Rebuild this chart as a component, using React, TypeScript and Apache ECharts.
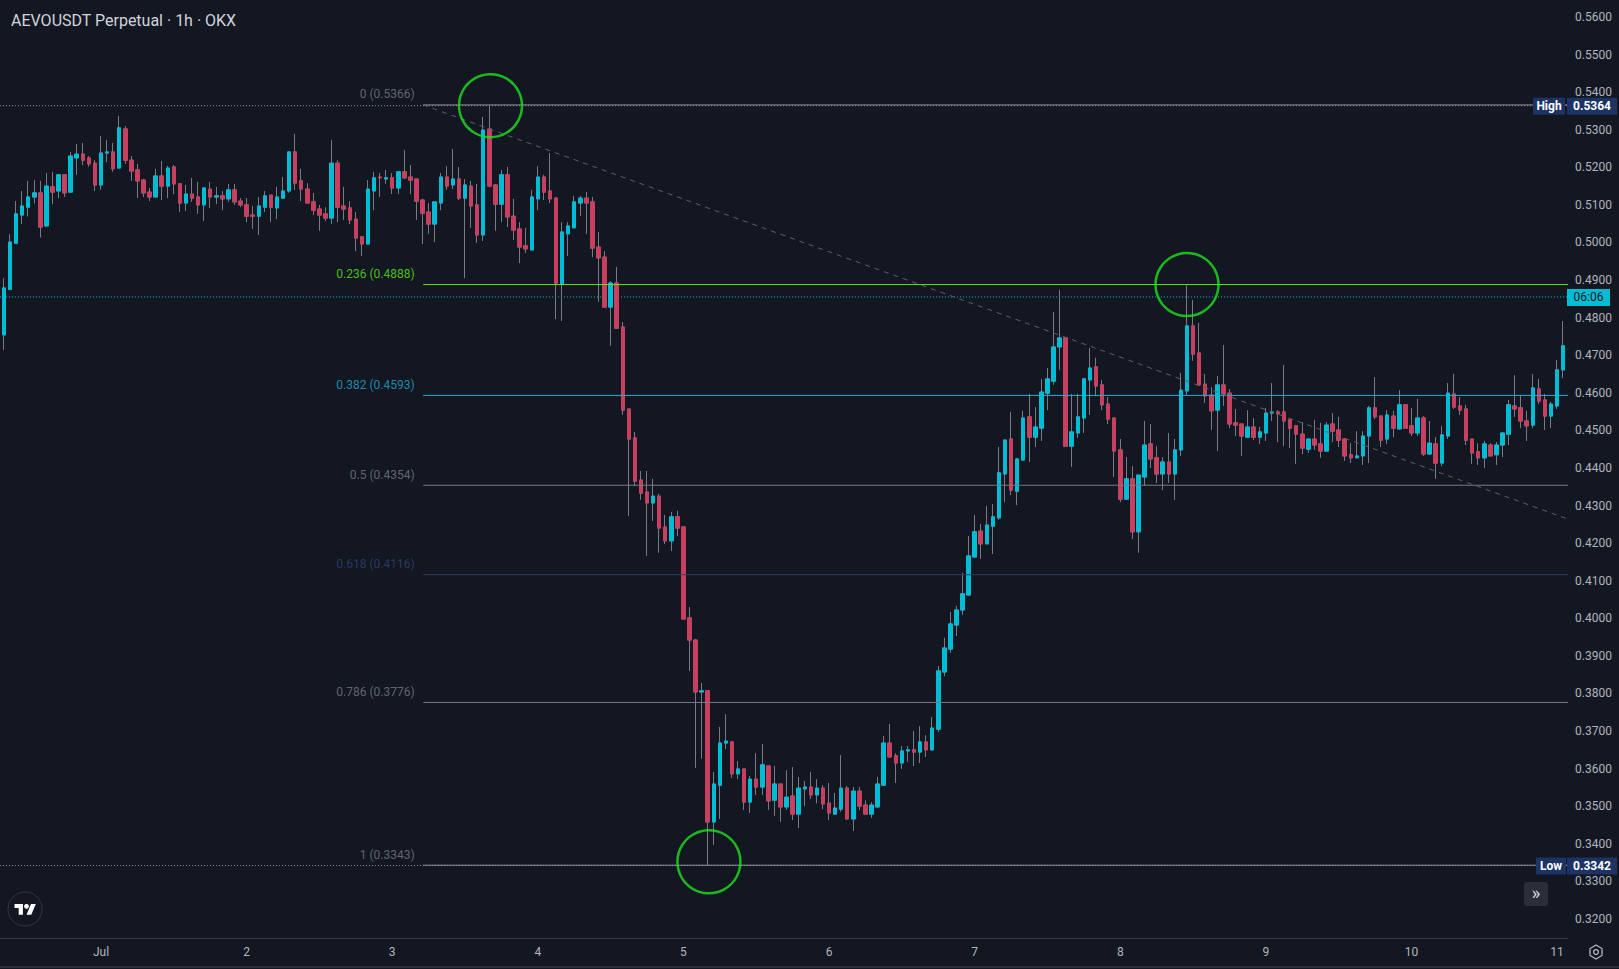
import { useEffect, useRef } from "react";
import * as echarts from "echarts";

// ---------- texts & ticks ----------
const chartTitle = "AEVOUSDT Perpetual · 1h · OKX";
const dayTicks = [0, 24, 48, 72, 96, 120, 144, 168, 192, 216, 240]; // hours from Jul 1 00:00
const dayLabels = ["Jul", "2", "3", "4", "5", "6", "7", "8", "9", "10", "11"];
const priceTicks = [
  0.32, 0.33, 0.34, 0.35, 0.36, 0.37, 0.38, 0.39, 0.4, 0.41, 0.42, 0.43, 0.44,
  0.45, 0.46, 0.47, 0.48, 0.49, 0.5, 0.51, 0.52, 0.53, 0.54, 0.55, 0.56,
];

// ---------- hourly candles [open, high, low, close] ----------
const firstHour = -17; // Jun 30 07:00
const jun30 = [
  [0.481, 0.4815, 0.4745, 0.4758], [0.4754, 0.4905, 0.4714, 0.4879], [0.4875, 0.5022, 0.4874, 0.5001],
  [0.4998, 0.511, 0.4996, 0.5076], [0.5073, 0.5137, 0.5049, 0.5097], [0.5094, 0.5164, 0.5069, 0.5121],
  [0.5121, 0.5166, 0.5104, 0.5132], [0.5132, 0.5164, 0.5013, 0.5041], [0.5044, 0.5185, 0.5044, 0.515],
  [0.5148, 0.5188, 0.5102, 0.5134], [0.5137, 0.5182, 0.5118, 0.518], [0.518, 0.5182, 0.5121, 0.5132],
  [0.5134, 0.5241, 0.5134, 0.523], [0.5225, 0.5262, 0.518, 0.5235], [0.5235, 0.5265, 0.5206, 0.5219],
  [0.5225, 0.523, 0.5202, 0.5209], [0.5211, 0.5219, 0.5137, 0.5153],
];
const jul01 = [
  [0.5153, 0.5283, 0.514, 0.5238], [0.5238, 0.5273, 0.5214, 0.5241], [0.5241, 0.5265, 0.5188, 0.5196],
  [0.5198, 0.5337, 0.5198, 0.5305], [0.5302, 0.531, 0.5209, 0.5219], [0.5219, 0.523, 0.5164, 0.519],
  [0.5193, 0.5209, 0.5118, 0.5164], [0.5166, 0.5169, 0.5121, 0.5132], [0.5134, 0.5145, 0.511, 0.5121],
  [0.5121, 0.5196, 0.5121, 0.5177], [0.5177, 0.5217, 0.5113, 0.515], [0.515, 0.5204, 0.5118, 0.5198],
  [0.5201, 0.5206, 0.5129, 0.5156], [0.5156, 0.5156, 0.5081, 0.5105], [0.5105, 0.5153, 0.5084, 0.5129],
  [0.5129, 0.5172, 0.5108, 0.5118], [0.5121, 0.5161, 0.5076, 0.51], [0.51, 0.5148, 0.5057, 0.5145],
  [0.5142, 0.5161, 0.5092, 0.5121], [0.5121, 0.5148, 0.5102, 0.5124], [0.5124, 0.5137, 0.5086, 0.5116],
  [0.5116, 0.5156, 0.5108, 0.514], [0.514, 0.5156, 0.51, 0.5108], [0.511, 0.5118, 0.5094, 0.51],
];
const jul02 = [
  [0.51, 0.5118, 0.5054, 0.507], [0.5073, 0.5097, 0.5036, 0.507], [0.507, 0.5121, 0.502, 0.5097],
  [0.5094, 0.5137, 0.5081, 0.5124], [0.5126, 0.5126, 0.5054, 0.5094], [0.5092, 0.5148, 0.5062, 0.5121],
  [0.5118, 0.5174, 0.5116, 0.5137], [0.5137, 0.5243, 0.5132, 0.5241], [0.5241, 0.5289, 0.514, 0.5158],
  [0.5164, 0.5196, 0.511, 0.5142], [0.5142, 0.5158, 0.5105, 0.5105], [0.5108, 0.5132, 0.5073, 0.5086],
  [0.5089, 0.51, 0.5031, 0.5073], [0.5076, 0.5094, 0.5057, 0.5065], [0.5065, 0.5273, 0.5049, 0.5211],
  [0.5211, 0.5219, 0.5054, 0.5094], [0.5097, 0.5148, 0.506, 0.5089], [0.5092, 0.511, 0.5049, 0.506],
  [0.5062, 0.5081, 0.4977, 0.5012], [0.5015, 0.5015, 0.4964, 0.4996], [0.4996, 0.5166, 0.4996, 0.5142],
  [0.5137, 0.5188, 0.5086, 0.5172], [0.5174, 0.5185, 0.5121, 0.5172], [0.5169, 0.5193, 0.5156, 0.5172],
];
const jul03 = [
  [0.5172, 0.5185, 0.5129, 0.5145], [0.5145, 0.5188, 0.5129, 0.5188], [0.5188, 0.5246, 0.5169, 0.5172],
  [0.5174, 0.5206, 0.5129, 0.5166], [0.5169, 0.5169, 0.506, 0.511], [0.5113, 0.5116, 0.4996, 0.5078],
  [0.5081, 0.5105, 0.5023, 0.5049], [0.5049, 0.5108, 0.5001, 0.5108], [0.5105, 0.5185, 0.5086, 0.5174],
  [0.5174, 0.5203, 0.514, 0.515], [0.5153, 0.5249, 0.5142, 0.5169], [0.5169, 0.5201, 0.5113, 0.5118],
  [0.5118, 0.5169, 0.4905, 0.5153], [0.515, 0.5164, 0.5039, 0.5097], [0.51, 0.5156, 0.4999, 0.502],
  [0.502, 0.5334, 0.5004, 0.5299], [0.5302, 0.5364, 0.5148, 0.515], [0.5153, 0.5156, 0.5031, 0.5102],
  [0.5102, 0.5193, 0.5054, 0.518], [0.518, 0.5201, 0.5041, 0.5068], [0.507, 0.5116, 0.5007, 0.5033],
  [0.5036, 0.5054, 0.4945, 0.4988], [0.4991, 0.5039, 0.4972, 0.4983], [0.498, 0.514, 0.498, 0.5121],
];
const jul04 = [
  [0.5116, 0.5203, 0.5086, 0.5174], [0.5174, 0.518, 0.5113, 0.5134], [0.5137, 0.5238, 0.5105, 0.5116],
  [0.5118, 0.5121, 0.4796, 0.4892], [0.4889, 0.5054, 0.4791, 0.5028], [0.5023, 0.5054, 0.4964, 0.5044],
  [0.5039, 0.5124, 0.5039, 0.5108], [0.5105, 0.5124, 0.507, 0.5118], [0.5118, 0.5134, 0.5023, 0.5105],
  [0.5108, 0.5121, 0.4961, 0.4985], [0.4988, 0.5028, 0.4842, 0.4959], [0.4961, 0.4977, 0.4828, 0.4828],
  [0.4828, 0.4897, 0.4725, 0.4892], [0.4892, 0.4935, 0.477, 0.4772], [0.4775, 0.4788, 0.4541, 0.4554],
  [0.4557, 0.4557, 0.4272, 0.4477], [0.448, 0.4496, 0.4352, 0.4365], [0.4368, 0.4392, 0.4315, 0.4333],
  [0.4336, 0.4392, 0.4166, 0.4307], [0.4307, 0.4371, 0.4259, 0.4325], [0.4325, 0.4331, 0.4174, 0.424],
  [0.4243, 0.4275, 0.4198, 0.4206], [0.4206, 0.4283, 0.4179, 0.427], [0.427, 0.4286, 0.4219, 0.424],
];
const jul05 = [
  [0.4243, 0.4243, 0.3998, 0.3998], [0.4001, 0.403, 0.386, 0.3942], [0.3942, 0.3945, 0.3602, 0.3804],
  [0.3804, 0.3828, 0.3626, 0.3807], [0.3807, 0.3807, 0.3342, 0.3458], [0.3458, 0.3591, 0.3397, 0.3559],
  [0.3556, 0.3711, 0.3466, 0.3668], [0.3668, 0.3745, 0.3652, 0.3673], [0.3671, 0.3673, 0.3575, 0.3586],
  [0.3586, 0.362, 0.3572, 0.3599], [0.3599, 0.3599, 0.349, 0.3511], [0.3511, 0.358, 0.3482, 0.3572],
  [0.3572, 0.3641, 0.353, 0.3551], [0.3551, 0.3665, 0.353, 0.361], [0.3607, 0.3607, 0.349, 0.3514],
  [0.3516, 0.3607, 0.3474, 0.3559], [0.3559, 0.3559, 0.3458, 0.3498], [0.3498, 0.3596, 0.349, 0.3524],
  [0.3527, 0.3604, 0.3463, 0.3479], [0.3479, 0.3578, 0.3442, 0.3548], [0.3546, 0.3567, 0.35, 0.3551],
  [0.3551, 0.3591, 0.3519, 0.353], [0.353, 0.3572, 0.3508, 0.3548], [0.3548, 0.3556, 0.3492, 0.3506],
];
const jul06 = [
  [0.3508, 0.3562, 0.3463, 0.3482], [0.3479, 0.3535, 0.3477, 0.3495], [0.3492, 0.3636, 0.3485, 0.3548],
  [0.3548, 0.3554, 0.3466, 0.3466], [0.3466, 0.3551, 0.3434, 0.354], [0.354, 0.3551, 0.349, 0.35],
  [0.3503, 0.3516, 0.3477, 0.3479], [0.3479, 0.3511, 0.3469, 0.3503], [0.3498, 0.3578, 0.3495, 0.3559],
  [0.3556, 0.3687, 0.3556, 0.3668], [0.3668, 0.3719, 0.3631, 0.3631], [0.3634, 0.3641, 0.3562, 0.3615],
  [0.3615, 0.366, 0.3599, 0.3647], [0.3647, 0.366, 0.3618, 0.365], [0.365, 0.37, 0.3607, 0.3644],
  [0.3644, 0.3713, 0.3615, 0.3671], [0.3671, 0.3689, 0.3631, 0.365], [0.365, 0.3737, 0.3647, 0.3708],
  [0.3705, 0.3873, 0.3697, 0.386], [0.3857, 0.3948, 0.3846, 0.3921], [0.3918, 0.4017, 0.3908, 0.3985],
  [0.3982, 0.4033, 0.3953, 0.4022], [0.4022, 0.4121, 0.4009, 0.4065], [0.4062, 0.4219, 0.4059, 0.4166],
];
const jul07 = [
  [0.4163, 0.4275, 0.4163, 0.423], [0.4232, 0.4251, 0.4158, 0.4198], [0.4198, 0.4299, 0.4198, 0.4248],
  [0.4245, 0.4304, 0.4171, 0.427], [0.4267, 0.4456, 0.4262, 0.4387], [0.4384, 0.4477, 0.4309, 0.4474],
  [0.4477, 0.4549, 0.4328, 0.4341], [0.4338, 0.4427, 0.4301, 0.4424], [0.4421, 0.4552, 0.4421, 0.4533],
  [0.4536, 0.4597, 0.4416, 0.4482], [0.4482, 0.4562, 0.4456, 0.4509], [0.4506, 0.4637, 0.4472, 0.4602],
  [0.4599, 0.4666, 0.4554, 0.4637], [0.4631, 0.4815, 0.4621, 0.4722], [0.4722, 0.4874, 0.4661, 0.4746],
  [0.4746, 0.4748, 0.4456, 0.4458], [0.4458, 0.4597, 0.4403, 0.4496], [0.4493, 0.4597, 0.448, 0.4536],
  [0.4533, 0.464, 0.4493, 0.4637], [0.4634, 0.4719, 0.4541, 0.4666], [0.4669, 0.4693, 0.4591, 0.4618],
  [0.4621, 0.4634, 0.4554, 0.4568], [0.457, 0.4589, 0.4517, 0.453], [0.4533, 0.4533, 0.4376, 0.4445],
];
const jul08 = [
  [0.4448, 0.4477, 0.4309, 0.4317], [0.4317, 0.4429, 0.4315, 0.4371], [0.4371, 0.4405, 0.4211, 0.423],
  [0.423, 0.4381, 0.4174, 0.4381], [0.4376, 0.4525, 0.4352, 0.4461], [0.4464, 0.4517, 0.44, 0.4424],
  [0.4427, 0.4458, 0.436, 0.4384], [0.4384, 0.4429, 0.4341, 0.4416], [0.4416, 0.4493, 0.436, 0.4384],
  [0.4384, 0.4477, 0.4315, 0.4448], [0.4448, 0.4653, 0.4432, 0.4607], [0.4605, 0.4886, 0.4594, 0.4778],
  [0.4778, 0.4847, 0.4685, 0.4703], [0.4706, 0.4786, 0.4621, 0.4621], [0.4623, 0.465, 0.4573, 0.4592],
  [0.4594, 0.4615, 0.4501, 0.4552], [0.4554, 0.4645, 0.4445, 0.4621], [0.4621, 0.4727, 0.4565, 0.4597],
  [0.4599, 0.461, 0.4506, 0.4517], [0.452, 0.4557, 0.4485, 0.4514], [0.4517, 0.4517, 0.4432, 0.4485],
  [0.4482, 0.4554, 0.448, 0.4509], [0.4509, 0.4533, 0.4474, 0.4482], [0.4482, 0.4509, 0.4464, 0.4496],
];
const jul09 = [
  [0.4493, 0.456, 0.4472, 0.4546], [0.4546, 0.4626, 0.4525, 0.4549], [0.4549, 0.4554, 0.4469, 0.4544],
  [0.4549, 0.4674, 0.4458, 0.4525], [0.4528, 0.4528, 0.4453, 0.4506], [0.4512, 0.4514, 0.4411, 0.449],
  [0.449, 0.4522, 0.4437, 0.4453], [0.445, 0.4477, 0.444, 0.4477], [0.4477, 0.4528, 0.4448, 0.4461],
  [0.4464, 0.452, 0.4427, 0.4445], [0.4445, 0.4522, 0.4445, 0.4514], [0.4517, 0.4546, 0.4469, 0.4498],
  [0.4501, 0.4536, 0.4456, 0.4474], [0.4477, 0.448, 0.4419, 0.4432], [0.4435, 0.4466, 0.4413, 0.4427],
  [0.4427, 0.4498, 0.4427, 0.4432], [0.4432, 0.4498, 0.4408, 0.4485], [0.4485, 0.4565, 0.4413, 0.456],
  [0.456, 0.4642, 0.453, 0.4536], [0.4538, 0.4541, 0.4456, 0.4474], [0.4477, 0.4554, 0.4464, 0.4541],
  [0.4538, 0.4552, 0.4482, 0.4506], [0.4504, 0.4607, 0.4501, 0.4568], [0.4568, 0.457, 0.4506, 0.4506],
];
const jul10 = [
  [0.4512, 0.456, 0.4485, 0.4493], [0.4493, 0.4584, 0.4485, 0.4533], [0.4533, 0.4538, 0.4432, 0.4437],
  [0.4437, 0.4525, 0.4437, 0.4466], [0.4464, 0.4482, 0.4371, 0.4413], [0.4413, 0.4512, 0.4405, 0.4488],
  [0.4485, 0.4626, 0.4477, 0.4599], [0.4597, 0.465, 0.4557, 0.4562], [0.4565, 0.4589, 0.4541, 0.4554],
  [0.4557, 0.4568, 0.4461, 0.4474], [0.4477, 0.4477, 0.4411, 0.444], [0.4443, 0.4466, 0.4408, 0.4427],
  [0.4427, 0.4472, 0.44, 0.4464], [0.4461, 0.4466, 0.4432, 0.4432], [0.4435, 0.4469, 0.4408, 0.4461],
  [0.4461, 0.4496, 0.4429, 0.4493], [0.449, 0.4581, 0.4461, 0.4568], [0.4565, 0.4647, 0.4536, 0.4557],
  [0.456, 0.4594, 0.4506, 0.4525], [0.4525, 0.4552, 0.4472, 0.4512], [0.4514, 0.465, 0.4506, 0.4613],
  [0.461, 0.4637, 0.457, 0.4578], [0.4581, 0.4597, 0.4501, 0.4538], [0.4538, 0.4576, 0.4506, 0.457],
];
const jul11 = [
  [0.4565, 0.4687, 0.4557, 0.4661], [0.4661, 0.4791, 0.4639, 0.4725],
];

// ---------- drawings ----------
const fibRatios = ["0", "0.236", "0.382", "0.5", "0.618", "0.786", "1"];
const fibPrices = [0.5366, 0.4888, 0.4593, 0.4354, 0.4116, 0.3776, 0.3343];
const fibLineColors = ["#8f929c", "#5ee61c", "#12b2d4", "#787b86", "#2e3d63", "#787b86", "#8f929c"];
const fibTextColors = ["#787b86", "#5ee60f", "#1eaccc", "#787b86", "#2e4577", "#787b86", "#787b86"];
const fibStartHour = 53.1;
const axisEndHour = 241.8;
const axisStartHour = -16.65;
const trendLine = [[53.1, 0.5366], [241.8, 0.4264]];
const swingPoints = [[64.2, 0.5364], [100.2, 0.3352], [179, 0.4888]];
const highPrice = 0.5364;
const lowPrice = 0.3342;
const livePrice = 0.4855;
const countdownText = "06:06";

const FONT = "Roboto, 'Noto Sans', sans-serif";

echarts.graphic.registerShape(
  "tvlogo",
  echarts.graphic.extendPath("M14 22H7V11H0V4h14v18zM28 22h-8l7.5-18h8L28 22z", {})
);

export default function App() {
  const ref = useRef<HTMLDivElement>(null);
  useEffect(() => {
    if (!ref.current) return;
    const chart = echarts.init(ref.current, undefined, { renderer: "svg" });
    const candles = [
      ...jun30, ...jul01, ...jul02, ...jul03, ...jul04, ...jul05,
      ...jul06, ...jul07, ...jul08, ...jul09, ...jul10, ...jul11,
    ];
    const wickData = candles.map((c, i) => [firstHour + i, c[0], c[3], c[2], c[1]]);
    const bodyData = candles.map((c, i) => [
      firstHour + i, c[0], c[3], Math.min(c[0], c[3]), Math.max(c[0], c[3]),
    ]);

    const fibSeries = fibPrices.map((p, i) => ({
      type: "line",
      silent: true,
      symbol: "none",
      z: 5,
      data: [[fibStartHour, p], [axisEndHour, p]],
      lineStyle: { color: fibLineColors[i], width: 1 },
    }));

    const dottedLine = (p: number, color: string, z: number) => ({
      type: "line",
      silent: true,
      symbol: "none",
      z,
      data: [[axisStartHour, p], [axisEndHour, p]],
      lineStyle: { color, width: 1, type: [1, 2] },
    });

    const option: any = {
      animation: false,
      backgroundColor: "#131722",
      textStyle: { fontFamily: FONT },
      title: {
        text: chartTitle,
        left: 6,
        top: 7,
        textStyle: { color: "#d1d4dc", fontSize: 16, fontWeight: "normal", fontFamily: FONT },
      },
      grid: { left: 0, top: 0, right: 51, bottom: 31, containLabel: false },
      xAxis: {
        type: "value",
        min: axisStartHour,
        max: axisEndHour,
        splitLine: { show: false },
        axisTick: { show: false },
        axisLine: { show: true, lineStyle: { color: "#363a45", width: 1 } },
        axisLabel: {
          customValues: dayTicks,
          formatter: (v: number) => dayLabels[dayTicks.indexOf(v)] ?? "",
          color: "#b2b5be",
          fontSize: 12,
          fontFamily: FONT,
          margin: 8,
        },
      },
      yAxis: {
        type: "value",
        position: "right",
        min: 0.314924,
        max: 0.564524,
        scale: true,
        splitLine: { show: false },
        axisTick: { show: false },
        axisLine: { show: false },
        axisLabel: {
          customValues: priceTicks,
          formatter: (v: number) => v.toFixed(4),
          color: "#b2b5be",
          fontSize: 12,
          fontFamily: FONT,
          margin: 7,
          align: "left",
        },
      },
      series: [
        dottedLine(highPrice, "#9598a1", 1),
        dottedLine(lowPrice, "#9598a1", 1),
        dottedLine(livePrice, "#00bcd4", 1),
        {
          type: "candlestick",
          name: "wicks",
          silent: true,
          barWidth: 4,
          encode: { x: 0, y: [1, 2, 3, 4] },
          data: wickData,
          itemStyle: {
            color: "#787b86",
            color0: "#787b86",
            borderColor: "#787b86",
            borderColor0: "#787b86",
            borderWidth: 1,
          },
          z: 2,
        },
        {
          type: "candlestick",
          name: "bodies",
          silent: true,
          barWidth: 4,
          encode: { x: 0, y: [1, 2, 3, 4] },
          data: bodyData,
          itemStyle: {
            color: "#00bcd4",
            color0: "#c8405f",
            borderColor: "#00bcd4",
            borderColor0: "#c8405f",
            borderWidth: 1,
          },
          z: 3,
        },
        ...fibSeries,
        {
          type: "line",
          silent: true,
          symbol: "none",
          z: 5,
          data: trendLine,
          lineStyle: { color: "#5d606b", width: 1, type: [5, 5] },
        },
        {
          type: "scatter",
          silent: true,
          z: 6,
          symbolSize: 1,
          itemStyle: { color: "rgba(0,0,0,0)" },
          data: fibPrices.map((p, i) => ({
            value: [fibStartHour, p],
            label: {
              show: true,
              formatter: `${fibRatios[i]} (${p.toFixed(4)})`,
              position: [-8, -10],
              align: "right",
              verticalAlign: "middle",
              color: fibTextColors[i],
              fontSize: 12,
              fontFamily: FONT,
            },
          })),
        },
        {
          type: "scatter",
          silent: true,
          z: 7,
          symbol: "circle",
          symbolSize: 63,
          data: swingPoints,
          itemStyle: { color: "rgba(0,0,0,0)", borderColor: "#1ee21e", borderWidth: 2.5 },
        },
      ],
    };
    chart.setOption(option);

    const yOf = (p: number) => chart.convertToPixel({ yAxisIndex: 0 }, p) as number;
    const yH = yOf(highPrice);
    const yL = yOf(lowPrice);
    const yLive = yOf(livePrice);
    const boxText = (x: number, y: number, text: string, color: string, bold = true, size = 12) => ({
      type: "text",
      x,
      y,
      z: 101,
      style: {
        text,
        fill: color,
        font: `${bold ? "bold " : ""}${size}px ${FONT}`,
        align: "center",
        verticalAlign: "middle",
      },
    });
    chart.setOption({
      graphic: [
        // High marker
        { type: "rect", z: 100, shape: { x: 1533, y: yH - 8, width: 32, height: 17 }, style: { fill: "#1c3364" } },
        boxText(1549, yH + 0.5, "High", "#ffffff"),
        { type: "rect", z: 100, shape: { x: 1567, y: yH - 8, width: 50, height: 17 }, style: { fill: "#1c3364" } },
        boxText(1592, yH + 0.5, highPrice.toFixed(4), "#ffffff"),
        // Low marker
        { type: "rect", z: 100, shape: { x: 1536, y: yL - 8, width: 30, height: 17 }, style: { fill: "#1c3364" } },
        boxText(1551, yL + 0.5, "Low", "#ffffff"),
        { type: "rect", z: 100, shape: { x: 1567, y: yL - 8, width: 50, height: 17 }, style: { fill: "#1c3364" } },
        boxText(1592, yL + 0.5, lowPrice.toFixed(4), "#ffffff"),
        // countdown
        { type: "rect", z: 100, shape: { x: 1567, y: yLive - 8, width: 43, height: 17 }, style: { fill: "#00bcd4" } },
        boxText(1588.5, yLive + 0.5, countdownText, "#131722", false),
        // scroll button
        { type: "rect", z: 100, shape: { x: 1524, y: 882, width: 24, height: 24, r: 3 }, style: { fill: "#2a2e39" } },
        boxText(1536, 892, "»", "#d1d4dc", false, 19),
        // TradingView logo
        { type: "circle", z: 100, shape: { cx: 25, cy: 909, r: 17 }, style: { fill: "#131722", stroke: "#343844", lineWidth: 1 } },
        { type: "tvlogo", z: 101, x: 14.5, y: 901.5, scaleX: 0.6, scaleY: 0.6, style: { fill: "#ffffff" } },
        { type: "circle", z: 101, shape: { cx: 26.5, cy: 906.3, r: 2.4 }, style: { fill: "#ffffff" } },
        // settings icon
        {
          type: "polygon",
          z: 100,
          shape: { points: [[1596, 945], [1602, 948.5], [1602, 955.5], [1596, 959], [1590, 955.5], [1590, 948.5]] },
          style: { fill: "none", stroke: "#b2b5be", lineWidth: 1.3 },
        },
        { type: "circle", z: 100, shape: { cx: 1596, cy: 952, r: 2.4 }, style: { fill: "none", stroke: "#b2b5be", lineWidth: 1.3 } },
        // bottom border
        { type: "line", z: 100, shape: { x1: 0, y1: 967, x2: 1619, y2: 967 }, style: { stroke: "#2a2e39", lineWidth: 2 } },
      ],
    });
    return () => chart.dispose();
  }, []);
  return (
    <div
      ref={ref}
      style={{ position: "fixed", left: 0, top: 0, width: 1619, height: 969, background: "#131722" }}
    />
  );
}
